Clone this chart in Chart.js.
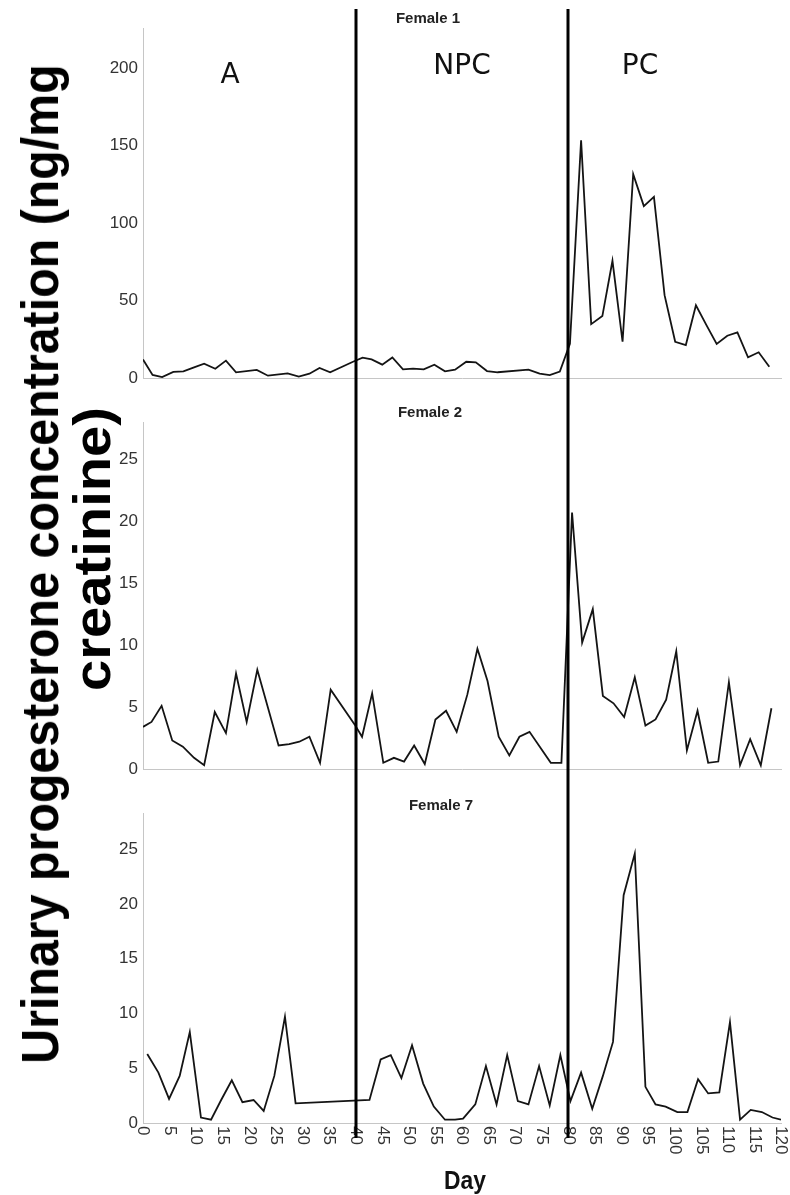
<!DOCTYPE html>
<html>
<head>
<meta charset="utf-8">
<script src="https://cdn.jsdelivr.net/npm/chart.js@4.4.1/dist/chart.umd.min.js"></script>
<style>
  html, body { margin: 0; padding: 0; background: #fff; }
  #wrap { position: relative; width: 790px; height: 1195px; overflow: hidden; }
  canvas { position: absolute; left: 0; }
  .ytitle {
    position: absolute;
    font: bold 52px "Liberation Sans", Arial, sans-serif;
    line-height: 1;
    white-space: nowrap;
    color: #000;
  }
  #yt1 { left: 40px; top: 564px; transform: translate(-50%, -50%) rotate(-90deg) scaleX(0.93); }
  #yt2 { left: 92px; top: 549px; transform: translate(-50%, -50%) rotate(-90deg) scaleX(1.08); }
  #xtitle {
    position: absolute;
    left: 465px;
    top: 1180px;
    font: bold 26px "Liberation Sans", Arial, sans-serif;
    line-height: 1;
    color: #111;
    transform: translate(-50%, -50%) scaleX(0.88);
  }
</style>
</head>
<body>
<div id="wrap">
  <canvas id="c1" width="790" height="400" style="top:0"></canvas>
  <canvas id="c2" width="790" height="390" style="top:400px"></canvas>
  <canvas id="c3" width="790" height="405" style="top:790px"></canvas>
  <div class="ytitle" id="yt1">Urinary progesterone concentration (ng/mg</div>
  <div class="ytitle" id="yt2">creatinine)</div>
  <div id="xtitle">Day</div>
</div>
<script>
// sampling days and urinary progesterone (ng/mg creatinine) per female
const days1 = [0, 1.8, 3.6, 5.7, 7.6, 9.6, 11.5, 13.6, 15.6, 17.5, 21.4, 23.5, 27.2, 29.3, 31.3, 33.2, 35.2, 39.5, 41.3, 43.0,
  45.0, 46.9, 48.9, 50.8, 52.8, 54.8, 56.8, 58.7, 60.8, 62.6, 64.7, 66.7, 72.5, 74.6, 76.5, 78.4, 80.3, 82.4, 84.3, 86.4,
  88.3, 90.2, 92.2, 94.2, 96.1, 98.1, 100.1, 102.1, 104.0, 106.0, 107.9, 109.9, 111.8, 113.8, 115.8, 117.8];
const female1 = [12, 2, 0.6, 3.9, 4.3, 6.9, 9.2, 6, 11.2, 3.7, 5.2, 1.5, 3, 0.9, 2.8, 6.5, 3.7, 10.5, 13.1, 12,
  8.6, 13.3, 5.6, 6, 5.6, 8.6, 4.3, 5.4, 10.5, 10.1, 4.5, 3.7, 5.4, 2.8, 1.9, 4.1, 22, 153.5, 34.8, 40,
  75.7, 23.4, 131.6, 111, 117, 53.5, 23.4, 21.3, 47, 34, 22, 27.3, 29.5, 13.3, 16.6, 7.3];

const days2 = [0, 1.6, 3.5, 5.5, 7.5, 9.6, 11.5, 13.5, 15.6, 17.5, 19.5, 21.5, 25.5, 27.5, 29.4, 31.3, 33.3, 35.3, 39.8, 41.2,
  43.1, 45.2, 47.2, 49.1, 51.0, 53.0, 55.0, 57.0, 59.0, 61.0, 62.9, 64.8, 66.9, 68.9, 70.8, 72.7, 76.7, 78.7, 80.7, 82.6,
  84.6, 86.5, 88.5, 90.5, 92.5, 94.5, 96.4, 98.4, 100.3, 102.3, 104.3, 106.3, 108.2, 110.2, 112.3, 114.2, 116.2, 118.2];
const female2 = [3.4, 3.8, 5.1, 2.3, 1.8, 0.9, 0.3, 4.6, 2.9, 7.7, 3.8, 8.0, 1.9, 2.0, 2.2, 2.6, 0.5, 6.4, 3.6, 2.6,
  6.1, 0.5, 0.9, 0.6, 1.9, 0.4, 4.0, 4.7, 3.0, 6.0, 9.7, 7.1, 2.6, 1.1, 2.6, 3.0, 0.5, 0.5, 20.7, 10.2,
  12.9, 5.9, 5.3, 4.2, 7.4, 3.5, 4.0, 5.6, 9.5, 1.5, 4.7, 0.5, 0.6, 7.0, 0.3, 2.4, 0.3, 4.9];

const days7 = [0.8, 2.9, 4.9, 6.9, 8.8, 10.9, 12.8, 14.7, 16.7, 18.7, 20.8, 22.7, 24.7, 26.7, 28.7, 42.6, 44.7, 46.6, 48.6, 50.6,
  52.7, 54.7, 56.8, 58.7, 60.2, 62.5, 64.5, 66.5, 68.5, 70.5, 72.5, 74.5, 76.5, 78.5, 80.4, 82.4, 84.5, 86.5, 88.4, 90.4,
  92.5, 94.5, 96.4, 98.3, 100.5, 102.4, 104.4, 106.3, 108.4, 110.4, 112.3, 114.3, 116.4, 118.4, 120];
const female7 = [6.3, 4.6, 2.2, 4.3, 8.3, 0.5, 0.3, 2.1, 3.9, 1.9, 2.1, 1.1, 4.3, 9.7, 1.8, 2.1, 5.8, 6.2, 4.1, 7.1,
  3.6, 1.5, 0.3, 0.3, 0.4, 1.7, 5.2, 1.7, 6.2, 2.0, 1.7, 5.2, 1.6, 6.2, 2.0, 4.6, 1.3, 4.3, 7.4, 20.8,
  24.6, 3.3, 1.7, 1.5, 1.0, 1.0, 4.0, 2.7, 2.8, 9.2, 0.3, 1.2, 1.0, 0.5, 0.3];

const xTickLabels = [0, 5, 10, 15, 20, 25, 30, 35, 40, 45, 50, 55, 60, 65, 70, 75, 80, 85, 90, 95, 100, 105, 110, 115, 120];
const phaseBounds = [40, 80];           // days where the phases change
const phaseNames = ["A", "NPC", "PC"];

const tickFont = '"Liberation Sans", Arial, sans-serif';

// thick black phase separators, through all three panels
const phaseLinePlugin = {
  id: "phaseLines",
  afterDraw(chart, args, opts) {
    const { ctx } = chart;
    const x = chart.scales.x;
    ctx.save();
    ctx.strokeStyle = "#000";
    ctx.lineWidth = 3;
    phaseBounds.forEach(d => {
      const px = Math.round(x.getPixelForValue(d));
      ctx.beginPath();
      ctx.moveTo(px, opts.top);
      ctx.lineTo(px, opts.bottom);
      ctx.stroke();
    });
    ctx.restore();
  }
};

const panelTitlePlugin = {
  id: "panelTitle",
  afterDraw(chart, args, opts) {
    const { ctx } = chart;
    ctx.save();
    ctx.font = "bold 15px " + tickFont;
    ctx.fillStyle = "#222";
    ctx.textAlign = "center";
    ctx.textBaseline = "middle";
    ctx.fillText(opts.text, opts.x, opts.y);
    if (opts.phases) {
      ctx.font = "28px 'DejaVu Sans', sans-serif";
      ctx.fillStyle = "#111";
      opts.phases.forEach((p, i) => ctx.fillText(phaseNames[i], p[0], p[1]));
    }
    ctx.restore();
  }
};

// x tick labels turned a quarter clockwise, like the original
const rotatedTicksPlugin = {
  id: "rotatedTicks",
  afterDatasetsDraw(chart, args, opts) {
    if (!opts.show) return;
    const { ctx, chartArea } = chart;
    const x = chart.scales.x;
    ctx.save();
    ctx.font = "17px " + tickFont;
    ctx.fillStyle = "#333";
    ctx.textAlign = "left";
    ctx.textBaseline = "middle";
    xTickLabels.forEach(v => {
      ctx.save();
      ctx.translate(x.getPixelForValue(v), chartArea.bottom + 3);
      ctx.rotate(Math.PI / 2);
      ctx.fillText(String(v), 0, 0);
      ctx.restore();
    });
    ctx.restore();
  }
};

function makePanel(id, days, values, yMax, yStep, top, xHeight, extra) {
  const points = days.map((d, i) => ({ x: d, y: values[i] }));

  return new Chart(document.getElementById(id), {
    type: "line",
    data: {
      datasets: [{
        data: points,
        borderColor: "#141414",
        borderWidth: 1.8,
        pointRadius: 0,
        tension: 0,
        fill: false
      }]
    },
    options: {
      responsive: false,
      animation: false,
      layout: { padding: { top: top, right: 9, left: 0, bottom: 0 } },
      plugins: {
        legend: { display: false },
        tooltip: { enabled: false },
        phaseLines: extra.lines,
        panelTitle: extra.title,
        rotatedTicks: { show: !!extra.xticks }
      },
      scales: {
        x: {
          type: "linear",
          min: 0,
          max: 120,
          grid: { display: false, drawTicks: false },
          border: { color: "#c6c6c6", width: 1 },
          ticks: { display: false },
          afterFit(scale) { scale.height = xHeight; }
        },
        y: {
          min: 0,
          max: yMax,
          grid: { display: false, drawTicks: false },
          border: { color: "#c6c6c6", width: 1 },
          ticks: {
            stepSize: yStep,
            padding: 5,
            color: "#333",
            font: { family: tickFont, size: 17 },
            callback: v => (v % yStep === 0 ? v : null)
          },
          afterFit(scale) { scale.width = 143; }
        }
      }
    },
    plugins: [rotatedTicksPlugin, phaseLinePlugin, panelTitlePlugin]
  });
}

makePanel("c1", days1, female1, 226, 50, 28, 22, {
  lines: { top: 9, bottom: 400 },
  title: { text: "Female 1", x: 428, y: 19, phases: [[230, 76], [462, 67], [640, 67]] }
});

makePanel("c2", days2, female2, 28, 5, 22, 21, {
  lines: { top: 0, bottom: 390 },
  title: { text: "Female 2", x: 430, y: 13 }
});

makePanel("c3", days7, female7, 28.3, 5, 23, 72, {
  lines: { top: 0, bottom: 348 },
  title: { text: "Female 7", x: 441, y: 16 },
  xticks: true
});
</script>
</body>
</html>
